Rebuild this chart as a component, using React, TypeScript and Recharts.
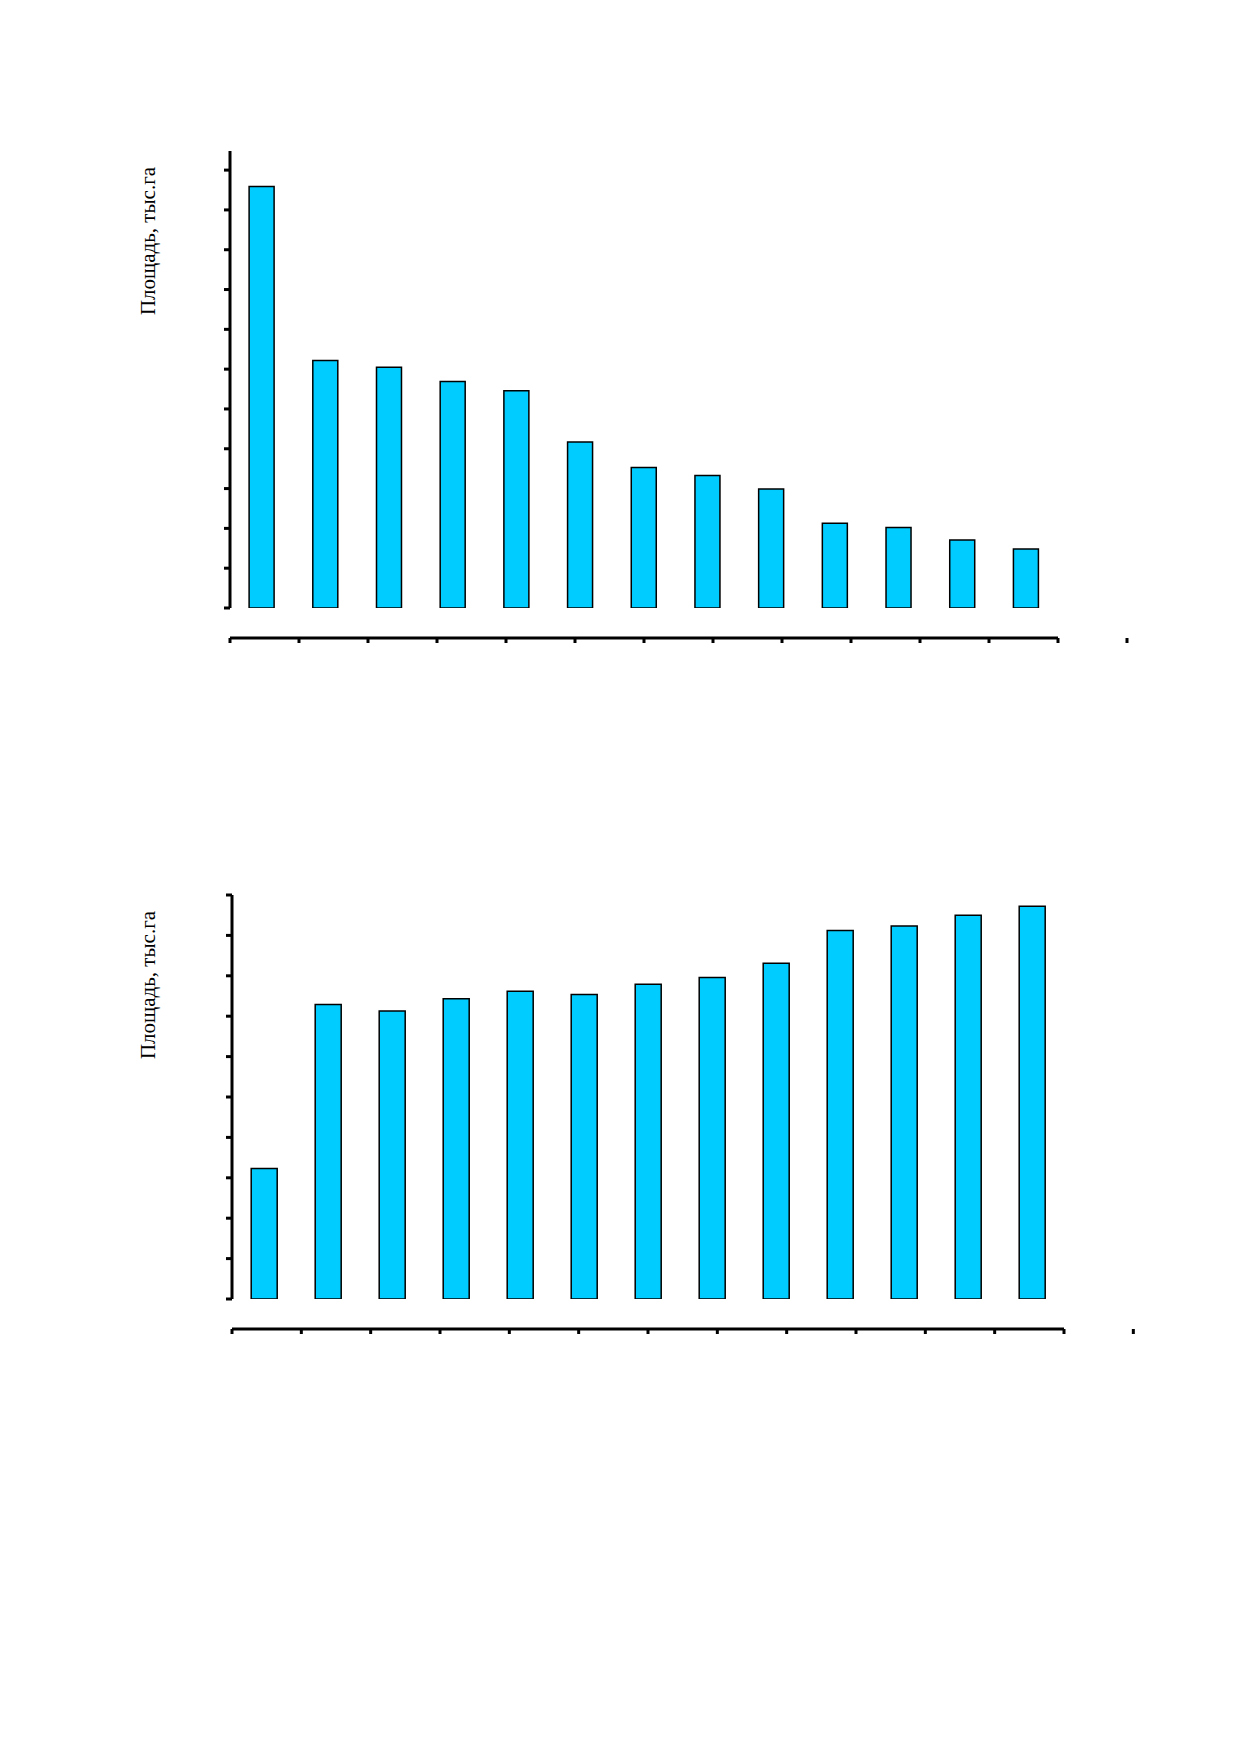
import { Bar, BarChart, XAxis, YAxis } from "recharts";

const regions = ["1", "2", "3", "4", "5", "6", "7", "8", "9", "10", "11", "12", "13"];
const topValues = [10.59, 6.22, 6.05, 5.69, 5.46, 4.17, 3.53, 3.33, 2.99, 2.13, 2.02, 1.71, 1.48];
const bottomValues = [3.23, 7.29, 7.13, 7.43, 7.62, 7.54, 7.79, 7.96, 8.31, 9.12, 9.23, 9.5, 9.72];
const topTicks = [0, 1, 2, 3, 4, 5, 6, 7, 8, 9, 10, 11];
const bottomTicks = [0, 1, 2, 3, 4, 5, 6, 7, 8, 9, 10];
const edgeTicks = [0, 1, 2, 3, 4, 5, 6, 7, 8, 9, 10, 11, 12, 13];
const yLabel = "Площадь, тыс.га";

function Panel({ values, ticks, max, top, height, margin }: any) {
  const data = regions.map((r, i) => ({ r, v: values[i] }));
  return (
    <div style={{ position: "absolute", left: 0, top, width: 1239, height }}>
      <BarChart width={1239} height={height} data={data} margin={margin} barCategoryGap="30%">
        <XAxis xAxisId="cat" dataKey="r" hide />
        <XAxis
          xAxisId="edge"
          type="number"
          domain={[0, 13]}
          ticks={edgeTicks}
          tickFormatter={() => ""}
          stroke="#000"
          strokeWidth={3}
          tickSize={5}
          height={20}
          allowDataOverflow
        />
        <YAxis
          domain={[0, max]}
          ticks={ticks}
          tickFormatter={() => ""}
          stroke="#000"
          strokeWidth={3}
          tickSize={6}
          width={10}
          allowDataOverflow
        />
        <Bar xAxisId="cat" dataKey="v" fill="#00CCFF" stroke="#000" strokeWidth={1.5} isAnimationActive={false} />
      </BarChart>
      <div
        style={{
          position: "absolute",
          left: 140,
          top: margin.top + 90,
          transform: "translate(-50%, -50%) rotate(-90deg)",
          whiteSpace: "nowrap",
          fontFamily: "'Liberation Serif', 'Times New Roman', serif",
          fontSize: 21,
        }}
      >
        {yLabel}
      </div>
    </div>
  );
}

export default function App() {
  return (
    <div style={{ position: "relative", width: 1239, height: 1754, background: "#fff" }}>
      <Panel values={topValues} ticks={topTicks} max={11.48} top={100} height={540}
        margin={{ top: 43, right: 189, bottom: 20, left: 212 }} />
      <Panel values={bottomValues} ticks={bottomTicks} max={10} top={850} height={500}
        margin={{ top: 37, right: 183, bottom: 39, left: 214 }} />
    </div>
  );
}
